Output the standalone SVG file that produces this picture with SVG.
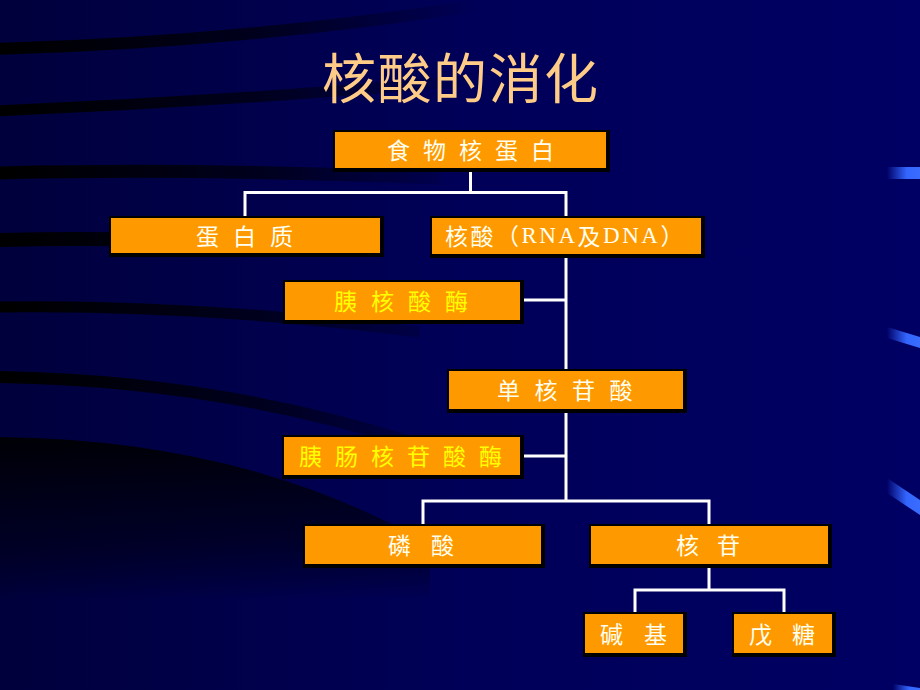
<svg xmlns="http://www.w3.org/2000/svg" width="920" height="690" viewBox="0 0 920 690">
<defs>
<linearGradient id="bg" x1="0" y1="0" x2="1" y2="0">
<stop offset="0" stop-color="#00003c"/>
<stop offset="0.5" stop-color="#000058"/>
<stop offset="1" stop-color="#000064"/>
</linearGradient>
<linearGradient id="bandFade" gradientUnits="userSpaceOnUse" x1="0" y1="0" x2="480" y2="0">
<stop offset="0" stop-color="#000000" stop-opacity="1"/>
<stop offset="0.55" stop-color="#000000" stop-opacity="0.6"/>
<stop offset="1" stop-color="#000000" stop-opacity="0"/>
</linearGradient>
<linearGradient id="darkFade" gradientUnits="userSpaceOnUse" x1="0" y1="440" x2="0" y2="600">
<stop offset="0" stop-color="#000000" stop-opacity="0.9"/>
<stop offset="0.6" stop-color="#000010" stop-opacity="0.6"/>
<stop offset="1" stop-color="#000000" stop-opacity="0"/>
</linearGradient>
<linearGradient id="accent" x1="0" y1="0" x2="1" y2="0">
<stop offset="0" stop-color="#000066"/>
<stop offset="0.6" stop-color="#3366ff"/>
<stop offset="1" stop-color="#3a6cff"/>
</linearGradient>
<style>
.box{fill:#ff9900;stroke:#000;stroke-width:2}
.sh{fill:#000}
.t{font-family:"Noto Sans CJK SC","Noto Sans CJK JP",sans-serif;font-size:23px;fill:#fffff0;dominant-baseline:central}
.y{fill:#ffff00}
.ln{stroke:#ffffff;stroke-width:3;fill:none}
.band{fill:none;stroke:url(#bandFade)}
</style>
</defs>

<!-- background -->
<rect x="0" y="0" width="920" height="690" fill="url(#bg)"/>
<path class="band" stroke-width="12" d="M-5,49 Q250,42 500,2"/>
<path class="band" stroke-width="11" d="M-5,111 Q250,100 500,78"/>
<path class="band" stroke-width="13" d="M-5,173 Q200,168 440,178"/>
<path class="band" stroke-width="14" d="M-5,240 Q180,236 360,250"/>
<path class="band" stroke-width="11" d="M-5,307 Q200,304 420,332"/>
<path class="band" stroke-width="12" d="M-5,377 Q220,380 420,445"/>
<path d="M0,437 Q250,440 430,545 L430,600 L0,600 Z" fill="url(#darkFade)"/>
<polygon points="887,167 920,167 920,179 887,179" fill="url(#accent)"/>
<polygon points="887,327 920,337 920,348 887,338" fill="url(#accent)"/>
<polygon points="887,478 920,500 920,515 887,493" fill="url(#accent)"/>
<polygon points="893,684 920,688 920,690 893,690" fill="url(#accent)"/>

<!-- title -->
<g id="title">
<text x="460.75" y="75" text-anchor="middle" font-family="Noto Sans CJK SC, sans-serif" font-size="54" letter-spacing="1.5" fill="#ffcc88" dominant-baseline="central">核酸的消化</text>
</g>

<!-- connectors -->
<g id="connectors">
<path class="ln" d="M470.5,170 V192.5 M245,192.5 H566 M245,191 V217 M566,191 V217"/>
<path class="ln" d="M566,256 V370 M522,300 H566"/>
<path class="ln" d="M566,411 V501 M522,456 H566"/>
<path class="ln" d="M423,501 H709 M423,499.5 V525 M709,499.5 V525"/>
<path class="ln" d="M709,566 V590 M635,590 H784 M635,588.5 V613 M784,588.5 V613"/>
</g>

<!-- nodes -->
<g id="n-food">
<rect class="sh" x="333" y="130" width="277" height="42"/>
<rect class="box" x="334" y="131" width="273" height="38"/>
<text class="t" x="387" y="149" letter-spacing="13">食物核蛋白</text>
</g>
<g id="n-protein">
<rect class="sh" x="109" y="216" width="275" height="41"/>
<rect class="box" x="110" y="217" width="271" height="37"/>
<text class="t" x="196" y="234.5" letter-spacing="14">蛋白质</text>
</g>
<g id="n-nucleic">
<rect class="sh" x="430" y="216" width="275" height="42"/>
<rect class="box" x="431" y="217" width="271" height="38"/>
<text class="t" x="445" y="235" letter-spacing="2.5">核酸（<tspan font-family="Liberation Serif, serif">RNA</tspan>及<tspan font-family="Liberation Serif, serif">DNA</tspan>）</text>
</g>
<g id="n-nuclease">
<rect class="sh" x="283" y="280" width="241" height="44"/>
<rect class="box" x="284" y="281" width="237" height="40"/>
<text class="t y" x="334" y="300" letter-spacing="14">胰核酸酶</text>
</g>
<g id="n-nucleotide">
<rect class="sh" x="447" y="369" width="240" height="44"/>
<rect class="box" x="448" y="370" width="236" height="40"/>
<text class="t" x="497" y="389" letter-spacing="14.5">单核苷酸</text>
</g>
<g id="n-nucleotidase">
<rect class="sh" x="282" y="435" width="242" height="44"/>
<rect class="box" x="283" y="436" width="238" height="40"/>
<text class="t y" x="299" y="455" letter-spacing="13">胰肠核苷酸酶</text>
</g>
<g id="n-phosphate">
<rect class="sh" x="303" y="524" width="242" height="44"/>
<rect class="box" x="304" y="525" width="238" height="40"/>
<text class="t" x="388" y="544" letter-spacing="20">磷酸</text>
</g>
<g id="n-nucleoside">
<rect class="sh" x="589" y="524" width="243" height="44"/>
<rect class="box" x="590" y="525" width="239" height="40"/>
<text class="t" x="676" y="544" letter-spacing="18">核苷</text>
</g>
<g id="n-base">
<rect class="sh" x="583" y="612" width="104" height="45"/>
<rect class="box" x="584" y="613" width="100" height="41"/>
<text class="t" x="600" y="632.5" letter-spacing="21">碱基</text>
</g>
<g id="n-pentose">
<rect class="sh" x="732" y="612" width="104" height="45"/>
<rect class="box" x="733" y="613" width="100" height="41"/>
<text class="t" x="749" y="632.5" letter-spacing="20">戊糖</text>
</g>
</svg>
